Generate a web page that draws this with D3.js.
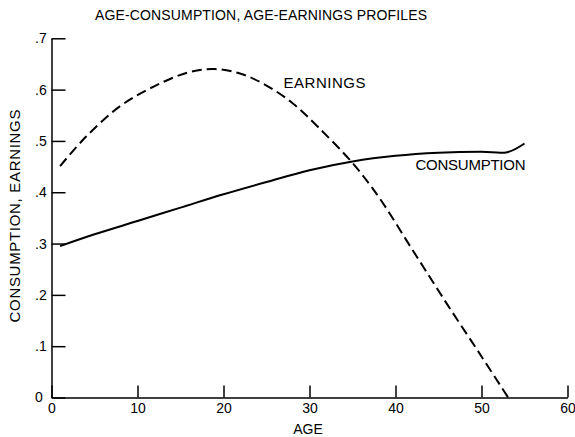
<!DOCTYPE html>
<html>
<head>
<meta charset="utf-8">
<style>
body { margin: 0; background: #fff; }
text { font-family: "Liberation Sans", Arial, sans-serif; fill: #000; }
.axis path, .axis line { stroke: #000; stroke-width: 1.5px; }
.axis text { font-size: 14px; font-family: "Liberation Sans", Arial, sans-serif; }
</style>
</head>
<body>
<script src="https://cdn.jsdelivr.net/npm/d3@7"></script>
<script>

// values
var consAge   = [1, 5, 10, 15, 20, 25, 30, 35, 40, 45, 50, 53, 55];
var consValue = [.295, .318, .344, .370, .396, .420, .443, .460, .471, .477, .479, .478, .495];

var earnAge   = [1, 4, 8, 12, 16, 19, 22, 25, 28, 31, 35, 38, 42, 46, 50, 53.1];
var earnValue = [.451, .508, .568, .607, .634, .640, .631, .608, .574, .527, .457, .392, .287, .182, .080, 0];

var xTicks = [0, 10, 20, 30, 40, 50, 60];
var yTicks = [0, .1, .2, .3, .4, .5, .6, .7];

var width = 575,
    height = 437;

var svg = d3.select("body").append("svg")
    .attr("width", width)
    .attr("height", height);

var x = d3.scaleLinear().domain([0, 60]).range([51.5, 567.5]);
var y = d3.scaleLinear().domain([0, .7]).range([397.5, 38.3]);

// axes
var xAxis = svg.append("g")
    .attr("class", "axis")
    .attr("transform", "translate(0," + y(0) + ")")
    .call(d3.axisBottom(x).tickValues(xTicks).tickSizeInner(-12).tickSizeOuter(0).tickPadding(6));

var yAxis = svg.append("g")
    .attr("class", "axis")
    .attr("transform", "translate(" + x(0) + ",0)")
    .call(d3.axisLeft(y).tickValues(yTicks).tickSizeInner(-14).tickSizeOuter(0)
      .tickFormat(function(d) { return d === 0 ? "0" : d3.format(".1f")(d).replace(/^0/, ""); }));

yAxis.selectAll("text")
    .attr("text-anchor", "start")
    .attr("x", -16.5);

// curves
var consData = consAge.map(function(a, i) { return [a, consValue[i]]; });
var earnData = earnAge.map(function(a, i) { return [a, earnValue[i]]; });

var line = d3.line()
    .x(function(d) { return x(d[0]); })
    .y(function(d) { return y(d[1]); })
    .curve(d3.curveCatmullRom);

svg.append("path")
    .datum(consData)
    .attr("d", line)
    .attr("fill", "none")
    .attr("stroke", "#000")
    .attr("stroke-width", 2);

svg.append("path")
    .datum(earnData)
    .attr("d", line)
    .attr("fill", "none")
    .attr("stroke", "#000")
    .attr("stroke-width", 2)
    .attr("stroke-dasharray", "10,5");

// labels
svg.append("text")
    .attr("x", 95)
    .attr("y", 20)
    .attr("textLength", 332)
    .style("font-size", "14px")
    .text("AGE-CONSUMPTION, AGE-EARNINGS PROFILES");

svg.append("text")
    .attr("x", 283.5)
    .attr("y", 88)
    .attr("textLength", 82)
    .style("font-size", "15px")
    .text("EARNINGS");

svg.append("text")
    .attr("x", 415.5)
    .attr("y", 169.5)
    .attr("textLength", 110)
    .style("font-size", "15px")
    .text("CONSUMPTION");

svg.append("text")
    .attr("x", 308)
    .attr("y", 433.5)
    .attr("text-anchor", "middle")
    .style("font-size", "14px")
    .text("AGE");

svg.append("text")
    .attr("transform", "translate(19.5,216) rotate(-90)")
    .attr("text-anchor", "middle")
    .attr("textLength", 213)
    .style("font-size", "15px")
    .text("CONSUMPTION, EARNINGS");

</script>
</body>
</html>
